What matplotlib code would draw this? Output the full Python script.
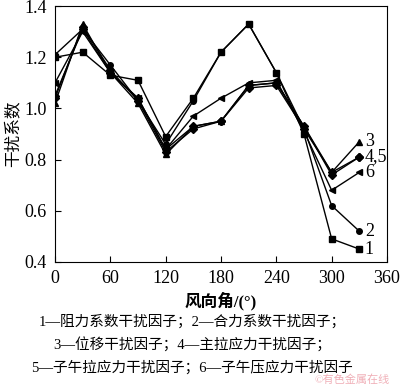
import matplotlib
matplotlib.use('Agg')
import matplotlib.pyplot as plt

plt.rcParams['font.family'] = ['Liberation Serif', 'Noto Sans CJK SC']

angles = [0, 30, 60, 90, 120, 150, 180, 210, 240, 270, 300, 330]
s1 = [1.20, 1.22, 1.13, 1.11, 0.89, 1.04, 1.22, 1.33, 1.14, 0.90, 0.49, 0.45]
s2 = [1.21, 1.31, 1.17, 1.03, 0.86, 1.03, 1.22, 1.33, 1.14, 0.92, 0.62, 0.52]
s3 = [1.02, 1.33, 1.14, 1.02, 0.82, 0.93, 0.95, 1.09, 1.10, 0.93, 0.75, 0.87]
s4 = [1.04, 1.32, 1.15, 1.03, 0.83, 0.92, 0.95, 1.08, 1.09, 0.92, 0.75, 0.81]
s5 = [1.05, 1.31, 1.14, 1.04, 0.84, 0.93, 0.95, 1.09, 1.10, 0.93, 0.74, 0.81]
s6 = [1.10, 1.30, 1.14, 1.04, 0.84, 0.97, 1.04, 1.10, 1.11, 0.91, 0.68, 0.75]

series = [s1, s2, s3, s4, s5, s6]
markers = ['s', 'o', '^', 'D', 'D', '<']
end_labels = ['1', '2', '3', '4,5', None, '6']

fig = plt.figure(figsize=(4.0, 3.84), dpi=100)
ax = fig.add_axes([0.1375, 0.318, 0.83, 0.666])

for vals, m in zip(series, markers):
    ax.plot(angles, vals, color='black', lw=1.0, marker=m, ms=4)

for vals, lab in zip(series, end_labels):
    if lab:
        ax.text(angles[-1] + 6, vals[-1], lab, fontsize=13, va='center', ha='left')

ax.set_xlim(0, 360)
ax.set_ylim(0.4, 1.4)
ax.set_xticks(range(0, 361, 60))
ax.set_yticks([0.4, 0.6, 0.8, 1.0, 1.2, 1.4])
ax.set_yticklabels(['0.4', '0.6', '0.8', '1.0', '1.2', '1.4'])
ax.tick_params(direction='in', labelsize=13, length=4, pad=6)
ax.set_ylabel('干扰系数', fontsize=12, labelpad=2)
ax.set_xlabel('风向角/(°)', fontsize=12, fontweight='bold', labelpad=3)

captions = ['1—阻力系数干扰因子；2—合力系数干扰因子；',
            '3—位移干扰因子；4—主拉应力干扰因子；',
            '5—子午拉应力干扰因子；6—子午压应力干扰因子']
for i, c in enumerate(captions):
    fig.text(0.48, 1 - (322 + i * 23) / 384, c, fontsize=10.5, ha='center', va='center')

fig.text(0.88, 1 - 380 / 384, '©有色金属在线', fontsize=8, color='#f0b0b8',
         ha='center', va='center')

plt.savefig('out.png')
